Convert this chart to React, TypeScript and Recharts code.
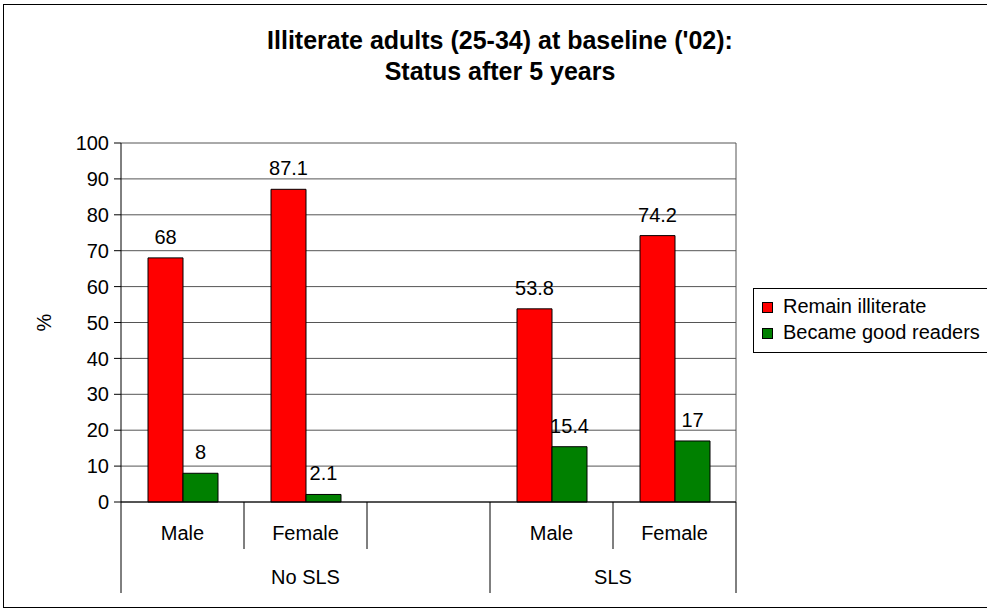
import { Bar, BarChart, CartesianGrid, LabelList, XAxis, YAxis } from "recharts";

const categories = ["Male", "Female", "", "Male", "Female"];
const remainIlliterate = [68, 87.1, null, 53.8, 74.2];
const becameGoodReaders = [8, 2.1, null, 15.4, 17];
const groups = [
  { label: "No SLS", start: 0, span: 3 },
  { label: "SLS", start: 3, span: 2 },
];
const seriesNames = ["Remain illiterate", "Became good readers"];
const seriesColors = ["#FF0000", "#008000"];
const yTicks = [0, 10, 20, 30, 40, 50, 60, 70, 80, 90, 100];
const titleLines = ["Illiterate adults (25-34) at baseline ('02):", "Status after 5 years"];

const W = 987;
const H = 612;
const MARGIN = { top: 143, right: 251, bottom: 10, left: 0 };
const Y_AXIS_W = 121;
const BAND = (W - MARGIN.left - Y_AXIS_W - MARGIN.right) / categories.length;
const FONT = "'Liberation Sans', Arial, sans-serif";

const data = categories.map((name, i) => ({
  name,
  remain: remainIlliterate[i],
  became: becameGoodReaders[i],
}));

const CategoryTick = (props: any) => {
  const { x, y, payload } = props;
  const i = props.index ?? payload.index;
  const left = x - BAND / 2;
  const group = groups.find((g) => g.start === i);
  const last = i === categories.length - 1;
  return (
    <g>
      <line x1={left} x2={left} y1={y} y2={y + (group ? 91 : 47)} stroke="#000" />
      {last && <line x1={x + BAND / 2} x2={x + BAND / 2} y1={y} y2={y + 91} stroke="#000" />}
      <text x={x} y={y + 38} textAnchor="middle" fontSize={20} fill="#000" fontFamily={FONT}>
        {payload.value}
      </text>
      {group && (
        <text x={left + (group.span * BAND) / 2} y={y + 82} textAnchor="middle" fontSize={20} fill="#000" fontFamily={FONT}>
          {group.label}
        </text>
      )}
    </g>
  );
};

export default function App() {
  return (
    <div style={{ position: "absolute", left: 0, top: 0, width: W, height: H, background: "#fff", fontFamily: FONT }}>
      <BarChart width={W} height={H} data={data} margin={MARGIN} barGap={0} barSize={35}>
        <CartesianGrid
          stroke="#555"
          horizontal
          vertical
          verticalCoordinatesGenerator={({ offset }: any) => [offset.left + offset.width]}
        />
        <XAxis
          dataKey="name"
          height={100}
          tickSize={0}
          tickMargin={0}
          tickLine={false}
          axisLine={{ stroke: "#000" }}
          interval={0}
          tick={<CategoryTick />}
        />
        <YAxis
          width={Y_AXIS_W}
          domain={[0, 100]}
          ticks={yTicks}
          interval={0}
          tickSize={7}
          tickMargin={5}
          axisLine={{ stroke: "#000" }}
          tickLine={{ stroke: "#000" }}
          tick={{ fill: "#000", fontSize: 20, fontFamily: FONT }}
          label={{
            value: "%",
            angle: -90,
            position: "insideLeft",
            offset: 44,
            style: { textAnchor: "middle", fill: "#000", fontSize: 20, fontFamily: FONT },
          }}
        />
        <Bar dataKey="remain" name={seriesNames[0]} fill={seriesColors[0]} stroke="#000" isAnimationActive={false}>
          <LabelList dataKey="remain" position="top" offset={14} fill="#000" fontSize={20} fontFamily={FONT} />
        </Bar>
        <Bar dataKey="became" name={seriesNames[1]} fill={seriesColors[1]} stroke="#000" isAnimationActive={false}>
          <LabelList dataKey="became" position="top" offset={14} fill="#000" fontSize={20} fontFamily={FONT} />
        </Bar>
      </BarChart>
      <svg width={W} height={H} style={{ position: "absolute", left: 0, top: 0, pointerEvents: "none" }}>
        <rect x={3.5} y={4.5} width={1000} height={603} fill="none" stroke="#000" />
        {titleLines.map((t, i) => (
          <text key={i} x={500} y={49 + i * 31} textAnchor="middle" fontSize={25} fontWeight="bold" fill="#000" fontFamily={FONT}>
            {t}
          </text>
        ))}
        <rect x={753.5} y={288.5} width={260} height={64} fill="#fff" stroke="#000" />
        {seriesNames.map((n, i) => (
          <g key={n}>
            <rect x={762.5} y={302.5 + i * 26} width={10} height={10} fill={seriesColors[i]} stroke="#000" />
            <text x={783} y={313 + i * 26} fontSize={20} fill="#000" fontFamily={FONT}>
              {n}
            </text>
          </g>
        ))}
      </svg>
    </div>
  );
}
